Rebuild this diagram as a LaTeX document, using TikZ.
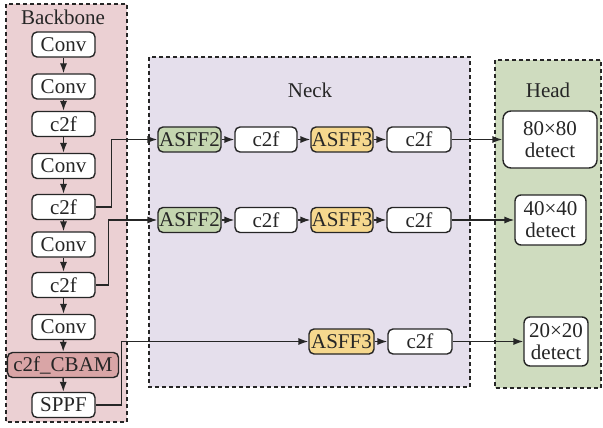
\documentclass[tikz,border=0pt]{standalone}
\usepackage{fontspec}
\setmainfont{Liberation Serif}
\usepackage{xcolor}
\usepackage{tikz}
\usetikzlibrary{calc}
\usetikzlibrary{arrows.meta}

\definecolor{bbfill}{HTML}{EBD0D3}
\definecolor{neckfill}{HTML}{E5DFEC}
\definecolor{headfill}{HTML}{CFDCBF}
\definecolor{asfftwofill}{HTML}{C4D6B0}
\definecolor{asffthreefill}{HTML}{F6D88E}
\definecolor{cbamfill}{HTML}{D9A5A6}
\definecolor{ink}{HTML}{262626}

\tikzset{
	blk/.style={draw=ink,fill=white,rounded corners=2.5pt,line width=0.7pt,text=ink,
		inner sep=0pt,minimum height=12.5pt,font=\fontsize{10.5}{12}\selectfont},
	region/.style={draw=ink,dashed,dash pattern=on 2pt off 1.5pt,line width=0.7pt},
	lbl/.style={text=ink,font=\fontsize{10.5}{12}\selectfont},
	conn/.style={-{Latex[length=5pt,width=3.6pt]},draw=ink,line width=0.7pt},
}

\begin{document}
\begin{tikzpicture}[x=0.5pt,y=-0.5pt]
	\useasboundingbox (0,0) rectangle (603,427);
	
	% regions
	\draw [region,fill=bbfill] (6,4) rectangle (127,422);
	\draw [region,fill=neckfill] (149,57) rectangle (470,387);
	\draw [region,fill=headfill] (495,60) rectangle (601,388);
	\node [lbl] (tbb) at (63,17) {Backbone};
	\node [lbl] (tneck) at (310,90) {Neck};
	\node [lbl] (thead) at (548,90) {Head};
	
	% backbone
	\foreach \y/\t/\i in {44.5/Conv/1, 86.5/Conv/2, 124/c2f/3, 166/Conv/4, 207/c2f/5,
		244.5/Conv/6, 285/c2f/7, 327/Conv/8, 405/SPPF/10} {
		\node [blk,minimum width=31.5pt] (b\i) at (63.5,\y) {\t};
	}
	\node [blk,fill=cbamfill,minimum width=55.5pt] (b9) at (63,365) {c2f\_CBAM};
	\foreach \i [evaluate=\i as \j using int(\i+1)] in {1,...,9} {
		\draw [conn] (b\i) -- (b\j);
	}
	
	% neck
	\foreach \y/\i in {139.5/1, 220/2} {
		\node [blk,fill=asfftwofill,minimum width=31.5pt] (a\i) at (189.5,\y) {ASFF2};
		\node [blk,minimum width=31pt] (c\i) at (266,\y) {c2f};
		\node [blk,fill=asffthreefill,minimum width=31pt] (f\i) at (342,\y) {ASFF3};
		\node [blk,minimum width=32pt] (g\i) at (419,\y) {c2f};
		\draw [conn] (a\i) -- (c\i);
		\draw [conn] (c\i) -- (f\i);
		\draw [conn] (f\i) -- (g\i);
	}
	\node [blk,fill=asffthreefill,minimum width=32.5pt] (f3) at (341.5,341.5) {ASFF3};
	\node [blk,minimum width=32pt] (g3) at (420,341.5) {c2f};
	\draw [conn] (f3) -- (g3);
	
	% head
	\node [blk,align=center,rounded corners=4pt,minimum width=47pt,minimum height=28.5pt] (d1) at (550,139.5) {80×80\\[-1pt]detect};
	\node [blk,align=center,rounded corners=3pt,minimum width=35.5pt,minimum height=25pt] (d2) at (550.5,220) {40×40\\[-1pt]detect};
	\node [blk,align=center,rounded corners=3pt,minimum width=32pt,minimum height=24.5pt] (d3) at (556,341.5) {20×20\\[-1pt]detect};
	\foreach \i in {1,2,3} {
		\draw [conn] (g\i) -- (d\i);
	}
	
	% backbone to neck
	\draw [conn] (b5.east) -- ++(16,0) |- (a1.west);
	\draw [conn] (b7.east) -- ++(13,0) |- (a2.west);
	\draw [conn] (b10.east) -- ++(26,0) |- (f3.west);
\end{tikzpicture}
\end{document}
